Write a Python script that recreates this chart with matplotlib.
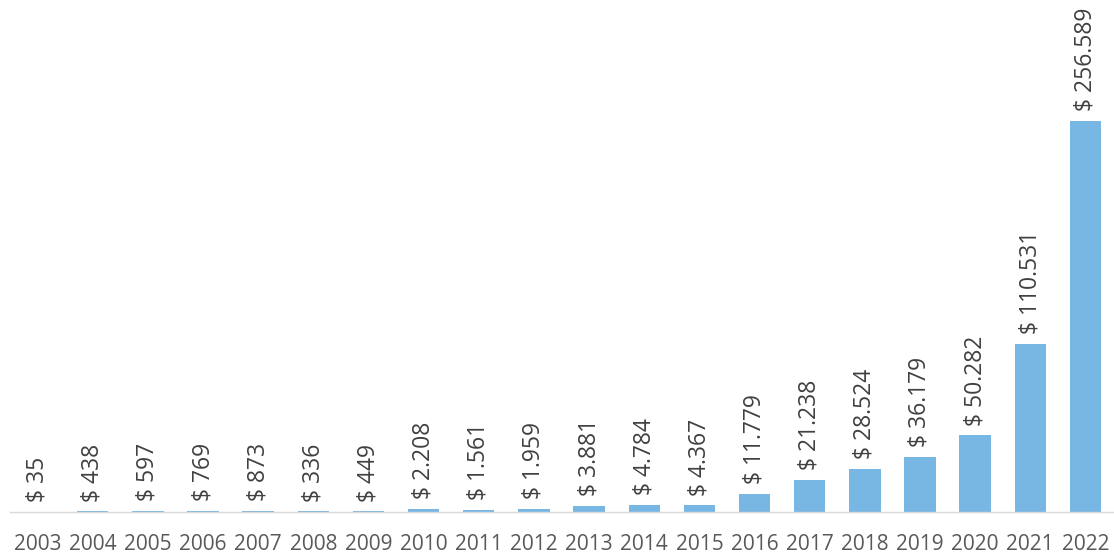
import matplotlib
matplotlib.use("Agg")
import matplotlib.pyplot as plt

years = ["2003", "2004", "2005", "2006", "2007", "2008", "2009", "2010", "2011", "2012",
         "2013", "2014", "2015", "2016", "2017", "2018", "2019", "2020", "2021", "2022"]
values = [35, 438, 597, 769, 873, 336, 449, 2208, 1561, 1959,
          3881, 4784, 4367, 11779, 21238, 28524, 36179, 50282, 110531, 256589]
labels = ["$ 35", "$ 438", "$ 597", "$ 769", "$ 873", "$ 336", "$ 449", "$ 2.208", "$ 1.561",
          "$ 1.959", "$ 3.881", "$ 4.784", "$ 4.367", "$ 11.779", "$ 21.238", "$ 28.524",
          "$ 36.179", "$ 50.282", "$ 110.531", "$ 256.589"]

plt.rcParams['font.family'] = ['Open Sans', 'DejaVu Sans']
fig = plt.figure(figsize=(11.14, 5.57), dpi=100)
ax = fig.add_axes([10/1114, 45/557, 1103/1114, 512/557])
x = list(range(len(years)))
bars = ax.bar(x, values, width=0.57, color="#78b6e3", zorder=2)
ax.set_xlim(-0.5, len(years) - 0.5)
ax.set_ylim(0, 256589 * 512 / 391)
for xi, v, lab in zip(x, values, labels):
    ax.annotate(lab, (xi, v), xytext=(0, 7), textcoords="offset points",
                rotation=90, ha="center", va="bottom", fontsize=16.5, color="#404040")
ax.set_xticks(x)
ax.set_xticklabels(years, fontsize=15, color="#595959")
ax.tick_params(axis="x", length=0, pad=16)
ax.set_yticks([])
for s in ["top", "right", "left"]:
    ax.spines[s].set_visible(False)
ax.spines["bottom"].set_color("#d9d9d9")
ax.spines["bottom"].set_linewidth(1)
fig.savefig("out.png", dpi=100)
